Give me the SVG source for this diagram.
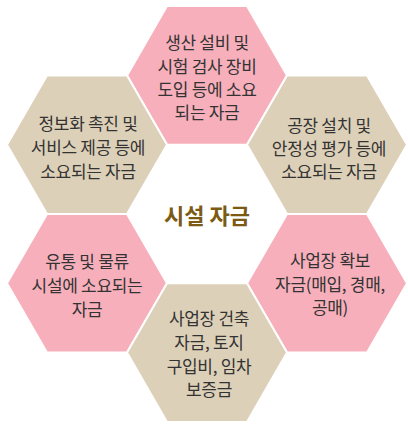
<svg xmlns="http://www.w3.org/2000/svg" width="408" height="426" viewBox="0 0 408 426">
<defs>
<style>
.pink{fill:#F7B0BB;stroke:#fff;stroke-width:2}
.beige{fill:#DDD0B8;stroke:#fff;stroke-width:2}
.t{font-family:"Noto Sans CJK KR","Noto Sans",sans-serif;font-size:17px;fill:#333;text-anchor:middle;letter-spacing:-0.3px}
.c{font-family:"Noto Sans CJK KR","Noto Sans",sans-serif;font-size:22px;font-weight:bold;fill:#7D5A14;text-anchor:middle}
</style>
<polygon id="hex" points="-80,0 -40,-69.3 40,-69.3 80,0 40,69.3 -40,69.3"/>
</defs>
<rect width="408" height="426" fill="#fff"/>
<g id="connectors"></g>
<g id="n-top">
<use href="#hex" x="207" y="75.4" class="pink"/>
<text class="t" x="207" y="49">생산 설비 및</text>
<text class="t" x="207" y="73">시험 검사 장비</text>
<text class="t" x="207" y="96">도입 등에 소요</text>
<text class="t" x="207" y="119">되는 자금</text>
</g>
<g id="n-upper-left">
<use href="#hex" x="87" y="144.7" class="beige"/>
<text class="t" x="88" y="130">정보화 촉진 및</text>
<text class="t" x="88" y="154">서비스 제공 등에</text>
<text class="t" x="88" y="178">소요되는 자금</text>
</g>
<g id="n-upper-right">
<use href="#hex" x="327" y="144.7" class="beige"/>
<text class="t" x="329" y="132">공장 설치 및</text>
<text class="t" x="329" y="155">안정성 평가 등에</text>
<text class="t" x="329" y="178">소요되는 자금</text>
</g>
<g id="n-lower-left">
<use href="#hex" x="87" y="283.3" class="pink"/>
<text class="t" x="87" y="268">유통 및 물류</text>
<text class="t" x="87" y="292">시설에 소요되는</text>
<text class="t" x="87" y="316">자금</text>
</g>
<g id="n-lower-right">
<use href="#hex" x="327" y="283.3" class="pink"/>
<text class="t" x="330" y="267">사업장 확보</text>
<text class="t" x="330" y="291">자금(매입, 경매,</text>
<text class="t" x="330" y="314">공매)</text>
</g>
<g id="n-bottom">
<use href="#hex" x="207" y="352.6" class="beige"/>
<text class="t" x="209" y="325">사업장 건축</text>
<text class="t" x="209" y="349">자금, 토지</text>
<text class="t" x="209" y="373">구입비, 임차</text>
<text class="t" x="209" y="396">보증금</text>
</g>
<g id="n-center">
<text class="c" x="207" y="224">시설 자금</text>
</g>
</svg>
